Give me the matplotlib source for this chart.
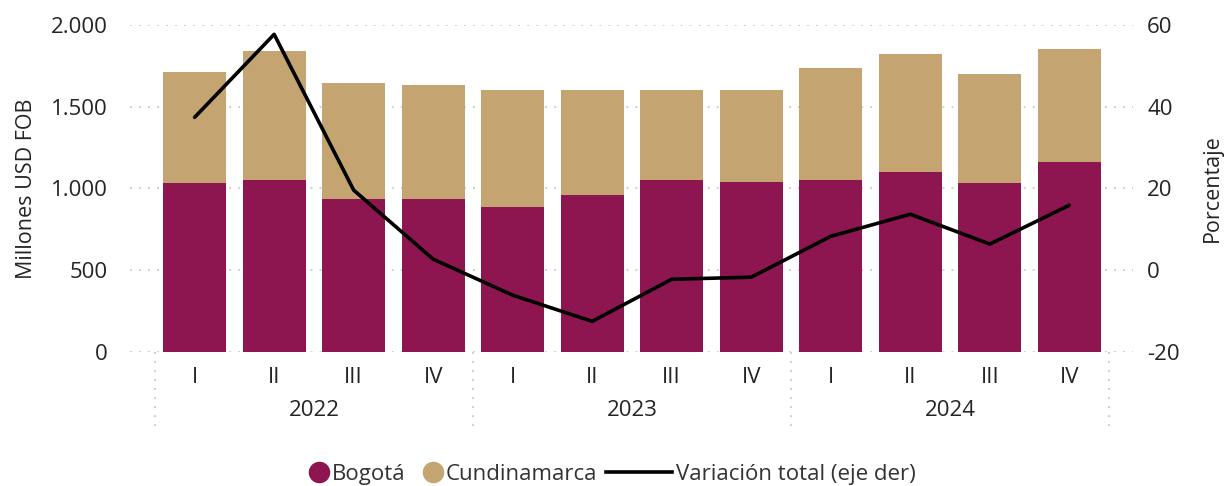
import numpy as np
import matplotlib.pyplot as plt
from matplotlib.lines import Line2D
from matplotlib.ticker import FuncFormatter

plt.rcParams['font.family'] = ['Open Sans', 'DejaVu Sans']
plt.rcParams['axes.unicode_minus'] = False

trimestres = ['I', 'II', 'III', 'IV'] * 3
anios = ['2022', '2023', '2024']
bogota = [1034, 1052, 936, 936, 887, 960, 1052, 1040, 1052, 1101, 1034, 1162]
cundinamarca = [678, 789, 709, 697, 715, 642, 550, 562, 685, 722, 666, 691]
variacion = [37.4, 57.7, 19.6, 2.7, -6.1, -12.5, -2.2, -1.7, 8.3, 13.7, 6.4, 15.9]

c_bog = '#8E1650'
c_cun = '#C4A571'
c_grid = '#C8C8C8'
c_txt = '#252423'

fig = plt.figure(figsize=(12.25, 4.86), dpi=100)
ax = fig.add_axes([0.106, 0.2757, 0.819, 0.673])
x = np.arange(len(bogota))

ax.bar(x, bogota, width=0.79, color=c_bog, zorder=2)
ax.bar(x, cundinamarca, bottom=bogota, width=0.79, color=c_cun, zorder=2)

ax.set_ylim(0, 2000)
ax.set_yticks([0, 500, 1000, 1500, 2000])
ax.yaxis.set_major_formatter(FuncFormatter(lambda v, p: '{:,.0f}'.format(v).replace(',', '.')))
ax.set_xlim(-0.5 - 25/79.5, 11.5 + 24/79.5)
ax.grid(axis='y', color=c_grid, linestyle=(0, (1, 4)), linewidth=1.3, zorder=0)
for s in ax.spines.values():
    s.set_visible(False)
ax.tick_params(axis='both', length=0, labelsize=16, colors=c_txt)
ax.tick_params(axis='y', pad=16)
ax.set_xticks(x)
ax.set_xticklabels(trimestres)
ax.tick_params(axis='x', pad=11)
ax.set_ylabel('Millones USD FOB', fontsize=15.5, color=c_txt, labelpad=10)

# separadores de año y etiquetas de año
for b in [-0.5, 3.5, 7.5, 11.5]:
    ax.plot([b, b], [0, -480], color=c_grid, linestyle=(0, (1, 4)), linewidth=1.3,
            clip_on=False, zorder=1)
for i, a in enumerate(anios):
    ax.text(4*i + 1.5, -360, a, ha='center', va='center', fontsize=16, color=c_txt)

ax2 = ax.twinx()
ax2.plot(x, variacion, color='black', linewidth=2.6, zorder=3, solid_capstyle='round')
ax2.set_ylim(-20, 60)
ax2.set_yticks([-20, 0, 20, 40, 60])
for s in ax2.spines.values():
    s.set_visible(False)
ax2.tick_params(axis='y', length=0, labelsize=16, colors=c_txt, pad=10)
ax2.set_ylabel('Porcentaje', fontsize=15.5, color=c_txt, labelpad=16)

# leyenda en dos partes para controlar separaciones
y_leg = 0.024
h_bog = Line2D([], [], marker='o', linestyle='none', markersize=14.5, color=c_bog)
h_cun = Line2D([], [], marker='o', linestyle='none', markersize=14.5, color=c_cun)
h_var = Line2D([], [], color='black', linewidth=2.6)
leg1 = fig.legend([h_bog, h_cun], ['Bogotá', 'Cundinamarca'],
                  loc='center left', bbox_to_anchor=(0.25, y_leg), ncol=2, frameon=False,
                  fontsize=16, handletextpad=0.1, columnspacing=0.8, handlelength=0.9,
                  borderpad=0, borderaxespad=0, labelcolor='#333333')
leg2 = fig.legend([h_var], ['Variación total (eje der)'],
                  loc='center left', bbox_to_anchor=(0.5, y_leg), frameon=False,
                  fontsize=16, handletextpad=0.15, handlelength=3.0,
                  borderpad=0, borderaxespad=0, labelcolor='#333333')
fig.canvas.draw()
W = fig.bbox.width
w1 = leg1.get_window_extent().width
w2 = leg2.get_window_extent().width
gap = 9
x0 = (W - (w1 + gap + w2)) / 2
leg1.set_bbox_to_anchor((x0 / W, y_leg), transform=fig.transFigure)
leg2.set_bbox_to_anchor(((x0 + w1 + gap) / W, y_leg), transform=fig.transFigure)

fig.savefig('out.png', dpi=100)
